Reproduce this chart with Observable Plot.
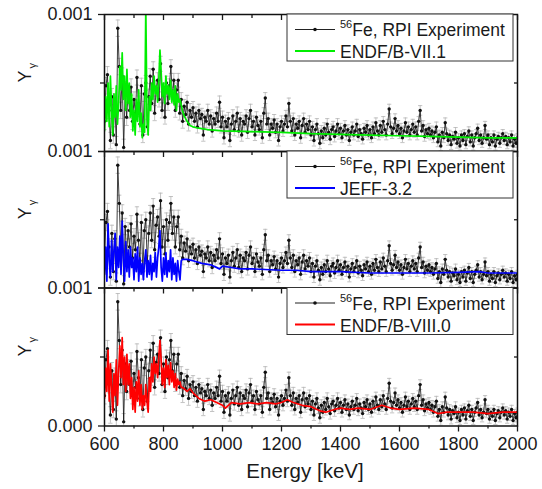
<!DOCTYPE html>
<html><head><meta charset="utf-8">
<script src="https://cdn.jsdelivr.net/npm/d3@7"></script>
<script src="https://cdn.jsdelivr.net/npm/@observablehq/plot@0.6"></script>
<style>
body{margin:0;background:#fff;}
#chart{position:relative;width:542px;height:489px;background:#fff;}
#chart svg{position:absolute;left:0;top:0;}
</style></head><body><div id="chart"></div>
<script>
// ---- data (Yγ in units of the panel span) ----
const expStart = 600, expStep = 5;
const expValues = [
0.22,0.48,0.56,0.30,0.08,0.40,0.12,0.36,0.05,0.90,0.62,0.30,0.55,0.03,0.45,0.25,0.42,0.30,0.47,0.22,
0.38,0.28,0.54,0.35,0.20,0.48,0.12,0.42,0.50,0.18,0.40,0.55,0.35,0.60,0.28,0.46,0.52,0.38,0.64,0.30,
0.45,0.25,0.50,0.35,0.48,0.62,0.40,0.52,0.30,0.45,0.52,0.28,0.38,0.22,0.33,0.27,0.36,0.20,0.30,0.25,
0.32,0.22,0.28,0.18,0.30,0.24,0.27,0.12,0.25,0.22,0.30,0.20,0.26,0.15,0.24,0.20,0.28,0.22,0.36,0.18,
0.25,0.10,0.22,0.18,0.24,0.08,0.20,0.26,0.16,0.22,0.28,0.15,0.24,0.12,0.22,0.20,0.26,0.14,0.24,0.30,
0.18,0.22,0.12,0.25,0.19,0.16,0.22,0.10,0.28,0.39,0.20,0.24,0.12,0.20,0.17,0.23,0.14,0.20,0.08,0.18,
0.22,0.15,0.20,0.26,0.18,0.35,0.22,0.15,0.24,0.12,0.20,0.17,0.22,0.10,0.19,0.24,0.14,0.20,0.16,0.22,
0.12,0.18,0.08,0.16,0.20,0.13,0.06,0.15,0.10,0.17,0.12,0.20,0.14,0.09,0.16,0.18,0.11,0.15,0.20,0.13,
0.17,0.10,0.15,0.19,0.12,0.16,0.08,0.14,0.18,0.12,0.15,0.20,0.11,0.16,0.13,0.09,0.17,0.14,0.19,0.12,
0.16,0.10,0.18,0.13,0.21,0.15,0.12,0.19,0.14,0.22,0.16,0.12,0.20,0.31,0.18,0.13,0.17,0.24,0.15,0.19,
0.13,0.17,0.10,0.15,0.21,0.14,0.18,0.12,0.16,0.20,0.14,0.18,0.12,0.22,0.30,0.15,0.19,0.11,0.16,0.13,
0.17,0.12,0.15,0.10,0.14,0.18,0.07,0.12,0.04,0.14,0.10,0.21,0.13,0.08,0.12,0.05,0.11,0.09,0.14,0.06,
0.10,0.04,0.12,0.08,0.13,0.05,0.11,0.15,0.07,0.12,0.04,0.10,0.13,0.17,0.08,0.12,0.06,0.10,0.19,0.09,
0.12,0.05,0.10,0.07,0.12,0.04,0.09,0.11,0.06,0.10,0.13,0.08,0.11,0.05,0.10,0.07,0.12,0.04,0.09,0.06,
0.10];
// uncertainty per 100 keV block
const expErrBlock = [0.06,0.055,0.05,0.045,0.045,0.04,0.04,0.04,0.035,0.035,0.035,0.035,0.03,0.03];

// evaluated yields, resonance region 600–860 keV on a 4 keV grid
const lowStart = 600, lowStep = 4;
const endf71Low = [0.15,0.40,0.22,0.50,0.18,0.55,0.30,0.12,0.42,0.25,0.48,0.20,0.35,0.62,0.45,0.72,0.38,0.55,0.30,0.60,
0.35,0.50,0.25,0.42,0.15,0.30,0.12,0.38,0.22,0.45,0.18,0.28,0.10,0.20,0.14,1.05,0.25,0.12,0.40,0.30,
0.50,0.38,0.55,0.42,0.48,0.36,0.52,0.74,0.58,0.40,0.50,0.35,0.55,0.42,0.48,0.38,0.52,0.36,0.45,0.34,
0.48,0.30,0.42,0.36,0.38,0.34];
const jeffLow = [0.10,0.30,0.05,0.47,0.20,0.08,0.35,0.12,0.28,0.40,0.06,0.30,0.15,0.38,0.10,0.49,0.22,0.05,0.34,0.12,
0.28,0.08,0.30,0.15,0.22,0.06,0.25,0.12,0.30,0.05,0.22,0.10,0.18,0.06,0.20,0.28,0.08,0.20,0.10,0.24,
0.06,0.18,0.12,0.26,0.08,0.22,0.30,0.42,0.15,0.05,0.22,0.10,0.26,0.08,0.20,0.12,0.28,0.06,0.22,0.10,
0.18,0.05,0.20,0.12,0.06,0.20];
const endf80Low = [0.20,0.42,0.25,0.55,0.18,0.45,0.28,0.10,0.38,0.22,0.48,0.15,0.40,0.58,0.35,0.64,0.30,0.50,0.25,0.52,
0.30,0.45,0.20,0.35,0.12,0.28,0.10,0.32,0.18,0.40,0.15,0.30,0.12,0.22,0.15,0.30,0.18,0.10,0.35,0.25,
0.45,0.32,0.50,0.38,0.45,0.35,0.50,0.62,0.48,0.30,0.42,0.28,0.48,0.35,0.44,0.30,0.46,0.32,0.40,0.28,
0.38,0.26,0.34,0.30,0.32,0.28];
// evaluated yields above 860 keV: [energy, yield]
const endf71High = [[864,0.30],[870,0.26],[880,0.22],[890,0.19],[900,0.18],[920,0.17],[950,0.16],[1000,0.15],[1100,0.145],[1200,0.14],[1300,0.13],[1400,0.125],[1500,0.12],[1600,0.115],[1700,0.11],[1800,0.105],[1900,0.10],[2000,0.10]];
const jeffHigh = [[864,0.21],[880,0.21],[900,0.20],[930,0.18],[960,0.17],[990,0.14],[1000,0.16],[1030,0.15],[1060,0.14],[1100,0.14],[1200,0.13],[1250,0.13],[1300,0.12],[1400,0.12],[1500,0.11],[1600,0.11],[1700,0.11],[1800,0.115],[1870,0.12],[1900,0.11],[2000,0.11]];
const endf80High = [[864,0.28],[870,0.27],[880,0.25],[890,0.27],[900,0.24],[920,0.20],[940,0.18],[960,0.19],[980,0.17],[1000,0.15],[1010,0.13],[1030,0.17],[1060,0.16],[1090,0.17],[1120,0.16],[1150,0.17],[1180,0.16],[1200,0.17],[1220,0.19],[1240,0.17],[1270,0.15],[1300,0.14],[1330,0.11],[1350,0.10],[1380,0.12],[1400,0.13],[1430,0.12],[1460,0.13],[1500,0.12],[1540,0.15],[1570,0.13],[1600,0.12],[1650,0.13],[1700,0.12],[1730,0.09],[1760,0.10],[1800,0.10],[1850,0.10],[1900,0.09],[1950,0.10],[2000,0.10]];

const seriesNames = ["ENDF/B-VII.1","JEFF-3.2","ENDF/B-VIII.0"];
const seriesColors = ["#00ee00","#0000ff","#ff0000"];
const expName = "Fe, RPI Experiment";
const expIsotope = "56";
const xMajorTicks = [600,800,1000,1200,1400,1600,1800,2000];
const xMinorTicks = [700,900,1100,1300,1500,1700,1900];
const yMajorTicks = [0,1];
const yMinorTicks = [0.5];
const panelTickLabels = [["0.001","0.001"],["0.001",""],["0.000",""]];
const xLabel = "Energy [keV]";

// ---- build tables ----
const expData = expValues.map((v,i)=>{
  const E = expStart + i*expStep;
  const err = expErrBlock[Math.min(expErrBlock.length-1, Math.floor((E-expStart)/100))];
  return {E, y:v, lo:v-err, hi:v+err};
});
function modelTable(low, high){
  return low.map((v,i)=>({E: lowStart + i*lowStep, y: v})).concat(high.map(([E,v])=>({E, y:v})));
}
const models = [modelTable(endf71Low, endf71High), modelTable(jeffLow, jeffHigh), modelTable(endf80Low, endf80High)];

const W = 542, H = 489;
const panelTop = [14, 151, 287.5];
const panelBottom = [151, 287.5, 425.5];
const font = "'Liberation Sans', Arial, Helvetica, sans-serif";
const capSymbol = {draw(ctx, size){const w = Math.sqrt(size); ctx.moveTo(-w,0); ctx.lineTo(w,0);}};

const chart = document.getElementById("chart");
for (let k = 0; k < 3; k++) {
  const labels = panelTickLabels[k];
  const last = k === 2;
  const marks = [
    Plot.ruleX(expData, {x:"E", y1:"lo", y2:"hi", stroke:"#b4b4b4", strokeWidth:0.8, clip:true}),
    Plot.dot(expData, {x:"E", y:"hi", symbol:capSymbol, r:1.2, stroke:"#b4b4b4", strokeWidth:0.8, fill:"none", clip:true}),
    Plot.dot(expData, {x:"E", y:"lo", symbol:capSymbol, r:1.2, stroke:"#b4b4b4", strokeWidth:0.8, fill:"none", clip:true}),
    Plot.line(expData, {x:"E", y:"y", stroke:"#111", strokeWidth:0.8, clip:true}),
    Plot.dot(expData, {x:"E", y:"y", r:1.7, fill:"#111", stroke:"none", clip:true}),
    Plot.line(models[k], {x:"E", y:"y", stroke:seriesColors[k], strokeWidth:1.7, clip:true}),
    Plot.frame({stroke:"#111", strokeWidth:1.5}),
    Plot.axisY({ticks:yMajorTicks, tickSize:6, tickPadding:6, tickFormat:d=>labels[yMajorTicks.indexOf(d)], label:null, strokeWidth:1.3}),
    Plot.axisY({ticks:yMinorTicks, tickSize:4, tickFormat:()=>"", label:null, strokeWidth:1.3}),
    Plot.axisY({anchor:"right", ticks:yMinorTicks, tickSize:4, dx:-4, tickFormat:()=>"", label:null, strokeWidth:1.3}),
    Plot.axisX({anchor:"top", ticks:xMajorTicks, tickSize:5, dy:5, tickFormat:()=>"", label:null, strokeWidth:1.3}),
    Plot.axisX({anchor:"top", ticks:xMinorTicks, tickSize:3, dy:3, tickFormat:()=>"", label:null, strokeWidth:1.3})
  ];
  if (last) {
    marks.push(
      Plot.axisX({anchor:"bottom", ticks:xMajorTicks, tickSize:6, tickPadding:5, tickFormat:d=>String(d), label:null, strokeWidth:1.3}),
      Plot.axisX({anchor:"bottom", ticks:xMinorTicks, tickSize:3, tickFormat:()=>"", label:null, strokeWidth:1.3})
    );
  }
  const svg = Plot.plot({
    width: W, height: H,
    marginTop: panelTop[k], marginBottom: H - panelBottom[k], marginLeft: 104, marginRight: 25,
    style: {background:"transparent", fontFamily: font, fontSize:"18px", color:"#1a1a1a", overflow:"visible"},
    x: {domain:[600,2000]},
    y: {domain:[0,1]},
    marks
  });
  const s = d3.select(svg);
  // y label Yγ
  const cy = (panelTop[k] + panelBottom[k]) / 2;
  const yl = s.append("text").attr("transform", `translate(31,${cy}) rotate(-90)`)
    .attr("text-anchor", "start")
    .attr("font-family", font).attr("font-size", 18).attr("fill", "#1a1a1a");
  yl.append("tspan").text("Y");
  yl.append("tspan").attr("font-size", 11).attr("dy", 5).attr("dx", 2).text("γ");
  // legend
  const lx0 = 287, lx1 = 513, ly = panelTop[k];
  const g = s.append("g").attr("font-family", font).attr("font-size", 17.5).attr("fill", "#1a1a1a").attr("text-anchor", "start");
  g.append("rect").attr("x", lx0).attr("y", ly).attr("width", lx1-lx0).attr("height", 47)
    .attr("fill", "#fff").attr("stroke", "#333").attr("stroke-width", 1);
  g.append("line").attr("x1", 295).attr("x2", 335).attr("y1", ly+15.5).attr("y2", ly+15.5).attr("stroke", "#222").attr("stroke-width", 1);
  g.append("circle").attr("cx", 315).attr("cy", ly+15.5).attr("r", 1.8).attr("fill", "#111");
  const t1 = g.append("text").attr("x", 340).attr("y", ly+22).attr("text-anchor", "start");
  t1.append("tspan").attr("font-size", 11).attr("dy", -8).text(expIsotope);
  t1.append("tspan").attr("dy", 8).text(expName);
  g.append("line").attr("x1", 295).attr("x2", 335).attr("y1", ly+37).attr("y2", ly+37).attr("stroke", seriesColors[k]).attr("stroke-width", 2);
  g.append("text").attr("x", 340).attr("y", ly+44).attr("text-anchor", "start").text(seriesNames[k]);
  if (last) {
    s.append("text").attr("x", 305).attr("y", 478).attr("text-anchor", "middle")
      .attr("font-family", font).attr("font-size", 20.5).attr("fill", "#1a1a1a").text(xLabel);
  }
  chart.appendChild(svg);
}
</script></body></html>
